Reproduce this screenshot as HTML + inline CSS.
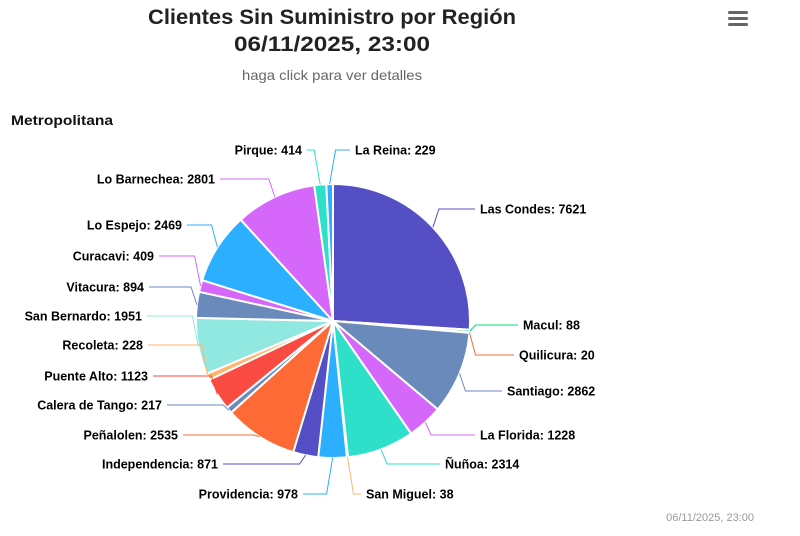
<!DOCTYPE html>
<html><head><meta charset="utf-8"><style>
html,body{margin:0;padding:0;background:#fff;}
svg{display:block;font-family:"Liberation Sans",sans-serif;}
</style></head><body>
<svg id="c" width="800" height="536" viewBox="0 0 800 536" xmlns="http://www.w3.org/2000/svg">
<text x="332" y="24" text-anchor="middle" font-size="21" font-weight="bold" fill="#222" textLength="368" lengthAdjust="spacingAndGlyphs">Clientes Sin Suministro por Región</text>
<text x="332" y="51" text-anchor="middle" font-size="21" font-weight="bold" fill="#222" textLength="196" lengthAdjust="spacingAndGlyphs">06/11/2025, 23:00</text>
<text x="332" y="80" text-anchor="middle" font-size="14" fill="#666" textLength="180" lengthAdjust="spacingAndGlyphs">haga click para ver detalles</text>
<text x="11" y="125" font-size="14" font-weight="bold" fill="#111" textLength="102" lengthAdjust="spacingAndGlyphs">Metropolitana</text>
<g fill="#666"><rect x="728" y="11" width="20" height="3" rx="1.5"/><rect x="728" y="17" width="20" height="3" rx="1.5"/><rect x="728" y="23" width="20" height="3" rx="1.5"/></g>
<text x="754" y="521" text-anchor="end" font-size="11" fill="#999">06/11/2025, 23:00</text>
<g id="pie"></g>
</svg>
<script>
var data=[
["Las Condes",7621,"#544fc5",480,209],
["Macul",88,"#00e272",523,325],
["Quilicura",20,"#fe6a35",519,355],
["Santiago",2862,"#6b8abc",507,391],
["La Florida",1228,"#d568fb",480,435],
["Ñuñoa",2314,"#2ee0ca",445,464],
["San Miguel",38,"#feb56a",366,494],
["Providencia",978,"#2caffe",298,494],
["Independencia",871,"#544fc5",218,464],
["Peñalolen",2535,"#fe6a35",178,435],
["Calera de Tango",217,"#6b8abc",162,405],
["Puente Alto",1123,"#fa4b42",148,376],
["Recoleta",228,"#feb56a",143,345],
["San Bernardo",1951,"#91e8e1",142,316],
["Vitacura",894,"#6b8abc",144,287],
["Curacavi",409,"#d568fb",154,256],
["Lo Espejo",2469,"#2caffe",182,225],
["Lo Barnechea",2801,"#d568fb",215,179],
["Pirque",414,"#2ee0ca",302,150],
["La Reina",229,"#2caffe",355,150]];
var cx=333,cy=321,r=137,tot=0;data.forEach(d=>tot+=d[1]);
var g=document.getElementById('pie'),h='',lab='',a=0;
function pt(ang,rr){return [cx+rr*Math.sin(ang),cy-rr*Math.cos(ang)];}
data.forEach(function(d){
 var a1=a+d[1]/tot*2*Math.PI,p0=pt(a,r),p1=pt(a1,r),lg=(a1-a)>Math.PI?1:0;
 h+='<path d="M'+cx+' '+cy+'L'+p0[0].toFixed(1)+' '+p0[1].toFixed(1)+'A'+r+' '+r+' 0 '+lg+' 1 '+p1[0].toFixed(1)+' '+p1[1].toFixed(1)+'Z" fill="'+d[2]+'" stroke="#fff" stroke-width="2" stroke-linejoin="round"/>';
 var m=(a+a1)/2,e=pt(m,r),right=Math.sin(m)>=0||d[0]=="La Reina";
 if(d[0]=="Pirque")right=false;
 var s=right?1:-1,ax=d[3]-s*5,ly=d[4],ex=e[0]+s*6;
 lab+='<polyline points="'+e[0].toFixed(1)+','+e[1].toFixed(1)+' '+ex.toFixed(1)+','+ly+' '+ax+','+ly+'" fill="none" stroke="'+d[2]+'" stroke-width="1"/>';
 lab+='<text x="'+d[3]+'" y="'+(ly+4.5)+'" font-size="12.5" font-weight="bold" fill="#000" text-anchor="'+(right?'start':'end')+'">'+d[0]+': '+d[1]+'</text>';
 a=a1;});
g.innerHTML=h+lab;
</script>
</body></html>
